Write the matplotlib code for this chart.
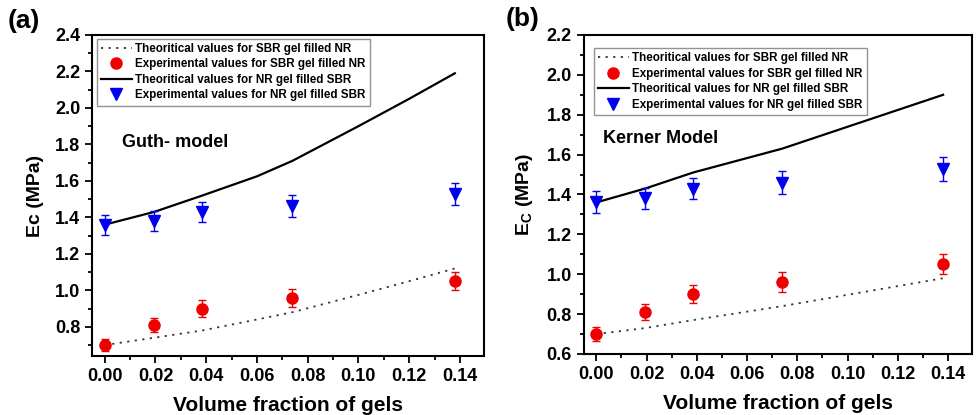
import matplotlib
matplotlib.use("Agg")
import matplotlib.pyplot as plt
from matplotlib.ticker import MultipleLocator

plt.rcParams['font.family'] = ['Liberation Sans', 'DejaVu Sans']
plt.rcParams['font.weight'] = 'bold'

# Data
phi = [0.0, 0.0195, 0.0385, 0.074, 0.138]

exp_sbr_nr = [0.70, 0.81, 0.90, 0.96, 1.05]
err_sbr_nr = [0.035, 0.04, 0.045, 0.05, 0.05]
exp_nr_sbr = [1.36, 1.38, 1.43, 1.46, 1.53]
err_nr_sbr = [0.055, 0.055, 0.055, 0.06, 0.06]

phi_guth = [0.0, 0.0195, 0.0385, 0.06, 0.074, 0.10, 0.12, 0.138]
guth_sbr_nr = [0.70, 0.74, 0.78, 0.84, 0.88, 0.975, 1.05, 1.12]
guth_nr_sbr = [1.36, 1.43, 1.52, 1.625, 1.71, 1.90, 2.05, 2.19]

kerner_sbr_nr = [0.70, 0.73, 0.77, 0.84, 0.98]
kerner_nr_sbr = [1.36, 1.43, 1.51, 1.63, 1.90]

xticks = [0.00, 0.02, 0.04, 0.06, 0.08, 0.10, 0.12, 0.14]
labels = ["Theoritical values for SBR gel filled NR",
          "Experimental values for SBR gel filled NR",
          "Theoritical values for NR gel filled SBR",
          "Experimental values for NR gel filled SBR"]

fig = plt.figure(figsize=(9.77, 4.15), dpi=100)
ax1 = fig.add_axes([0.0942, 0.1422, 0.4012, 0.7735])
ax2 = fig.add_axes([0.5974, 0.147, 0.3975, 0.7687])


def draw(ax, xth, th_sbr, th_nr, ylim, yticks, model, model_xy, ylabel, panel, panel_xy, leg_bbox):
    l1, = ax.plot(xth, th_sbr, linestyle=(0, (1.2, 3)), color='#333333', lw=1.3)
    e1 = ax.errorbar(phi, exp_sbr_nr, yerr=err_sbr_nr, fmt='o', color='#ee0000',
                     ms=8, capsize=3, elinewidth=1, capthick=1)
    l2, = ax.plot(xth, th_nr, '-', color='black', lw=1.6)
    e2 = ax.errorbar(phi, exp_nr_sbr, yerr=err_nr_sbr, fmt='v', color='#0000ee',
                     ms=9, capsize=3, elinewidth=1, capthick=1)
    ax.set_xlim(-0.005, 0.1495)
    ax.set_ylim(*ylim)
    ax.set_xticks(xticks)
    ax.set_yticks(yticks)
    ax.xaxis.set_minor_locator(MultipleLocator(0.01))
    ax.yaxis.set_minor_locator(MultipleLocator(0.1))
    ax.tick_params(which='both', direction='out', top=False, right=False, width=1.3)
    ax.tick_params(which='major', length=5, labelsize=13)
    ax.tick_params(which='minor', length=3)
    for lab in ax.get_xticklabels() + ax.get_yticklabels():
        lab.set_fontweight('bold')
    for s in ax.spines.values():
        s.set_linewidth(1.5)
    ax.set_xlabel("Volume fraction of gels", fontsize=15, fontweight='bold', labelpad=8)
    ax.set_ylabel(ylabel, fontsize=14, fontweight='bold', labelpad=8)
    ax.text(model_xy[0], model_xy[1], model, fontsize=13, fontweight='bold', va='center')
    fig.text(panel_xy[0], panel_xy[1], panel, fontsize=19, fontweight='bold', va='center')
    leg = ax.legend([l1, e1[0], l2, e2[0]], labels, loc='upper left', bbox_to_anchor=leg_bbox,
                    fontsize=8.4, frameon=True, fancybox=False, edgecolor='#777777',
                    handlelength=2.6, handletextpad=0.3, borderpad=0.35, labelspacing=0.3,
                    borderaxespad=0)
    leg.get_frame().set_linewidth(1.0)
    for t in leg.get_texts():
        t.set_fontweight('bold')


draw(ax1, phi_guth, guth_sbr_nr, guth_nr_sbr, (0.64, 2.4),
     [0.8, 1.0, 1.2, 1.4, 1.6, 1.8, 2.0, 2.2, 2.4],
     "Guth- model", (0.007, 1.81), "Ec (MPa)", "(a)", (0.008, 0.95), (0.013, 0.988))
draw(ax2, phi, kerner_sbr_nr, kerner_nr_sbr, (0.6, 2.2),
     [0.6, 0.8, 1.0, 1.2, 1.4, 1.6, 1.8, 2.0, 2.2],
     "Kerner Model", (0.0028, 1.68), r"E$_\mathregular{C}$ (MPa)", "(b)", (0.518, 0.955), (0.027, 0.958))

fig.savefig("out.png", dpi=100)
